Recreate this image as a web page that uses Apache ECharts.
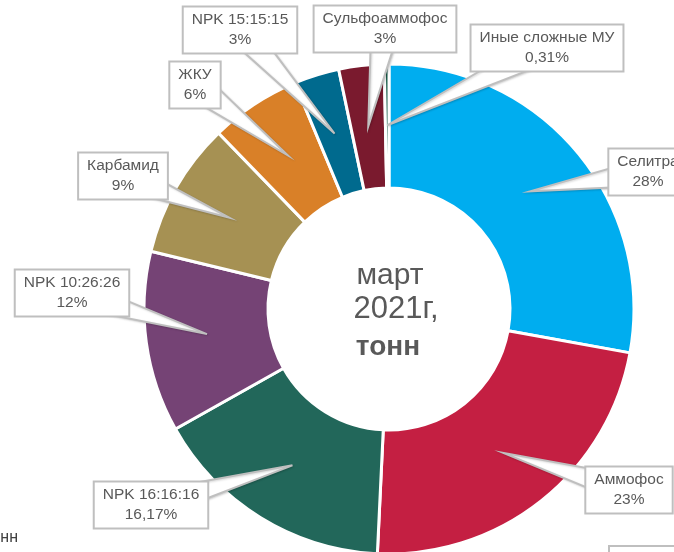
<!DOCTYPE html>
<html>
<head>
<meta charset="utf-8">
<script src="https://cdn.jsdelivr.net/npm/echarts@6/dist/echarts.min.js"></script>
<style>
  html, body { margin: 0; padding: 0; background: #fff; }
  #chart { width: 674px; height: 552px; }
</style>
</head>
<body>
<div id="chart"></div>
<script>
// ---- data ----
const categories = ['Селитра', 'Аммофос', 'NPK 16:16:16', 'NPK 10:26:26', 'Карбамид', 'ЖКУ', 'NPK 15:15:15', 'Сульфоаммофос', 'Иные сложные МУ'];
const values = [28, 23, 16.17, 12, 9, 6, 3, 3, 0.31];
const centerLines = ['март', '2021г,', 'тонн'];

// ---- styles / layout ----
const colors = ['#00ADEF', '#C41F42', '#22675A', '#754375', '#A69153', '#D98028', '#006A8E', '#7A1A2E', '#1B5E4B'];
const CX = 389, CY = 309, R_OUT = 245, R_IN = 121;
const labelCenters = [
  [648, 172], [629, 490], [151, 505], [72, 293], [123, 176],
  [195, 85], [240, 30], [385, 29], [547, 48]
];
const FONT = '"Liberation Sans", Arial, sans-serif';

const chart = echarts.init(document.getElementById('chart'), null, { renderer: 'canvas' });

const pieBase = {
  type: 'pie',
  center: [CX, CY],
  radius: [R_IN, R_OUT],
  startAngle: 90,
  clockwise: true,
  avoidLabelOverlap: false,
  silent: true
};

const option = {
  animation: false,
  backgroundColor: '#ffffff',
  series: [
    Object.assign({}, pieBase, {
      z: 1,
      itemStyle: { borderColor: '#ffffff', borderWidth: 3 },
      data: categories.map((c, i) => ({ name: c, value: values[i], itemStyle: { color: colors[i] } })),
      label: { show: false },
      labelLine: { show: false }
    }),
    Object.assign({}, pieBase, {
      z: 5,
      itemStyle: { color: 'rgba(0,0,0,0)', borderWidth: 0 },
      data: categories.map((c, i) => ({ name: c, value: values[i] })),
      label: {
        show: true,
        position: 'outside',
        formatter: p => p.name + '\n' + String(p.value).replace('.', ',') + '%',
        fontFamily: FONT,
        fontSize: 15.5,
        lineHeight: 20,
        color: '#595959',
        align: 'center',
        backgroundColor: '#ffffff',
        borderColor: '#BFBFBF',
        borderWidth: 2,
        padding: [3, 8, 2, 8]
      },
      labelLine: {
        show: true,
        length: 10,
        length2: 10,
        lineStyle: { color: '#BFBFBF', width: 2, shadowColor: 'rgba(0,0,0,0.15)', shadowBlur: 2, shadowOffsetX: 1, shadowOffsetY: 1 }
      },
      labelLayout: function (params) {
        const i = params.dataIndex;
        const lc = labelCenters[i];
        let p0 = params.labelLinePoints && params.labelLinePoints[0];
        if (!p0) { p0 = [CX, CY - R_OUT]; }
        const k = 0.75;
        const tip = [CX + (p0[0] - CX) * k, CY + (p0[1] - CY) * k];
        const dx = tip[0] - lc[0], dy = tip[1] - lc[1];
        const len = Math.sqrt(dx * dx + dy * dy) || 1;
        const w = 14;
        const px = -dy / len * w, py = dx / len * w;
        return {
          x: lc[0],
          y: lc[1],
          align: 'center',
          verticalAlign: 'middle',
          labelLinePoints: [[lc[0] + px, lc[1] + py], tip, [lc[0] - px, lc[1] - py]]
        };
      }
    })
  ],
  graphic: [
    { type: 'text', z: 10, style: { text: centerLines[0], x: 390, y: 291, textAlign: 'center', textVerticalAlign: 'bottom', font: '30px ' + FONT, fill: '#595959' } },
    { type: 'text', z: 10, style: { text: centerLines[1], x: 396, y: 325, textAlign: 'center', textVerticalAlign: 'bottom', font: '31px ' + FONT, fill: '#595959' } },
    { type: 'text', z: 10, style: { text: centerLines[2], x: 388, y: 361, textAlign: 'center', textVerticalAlign: 'bottom', font: 'bold 28px ' + FONT, fill: '#595959' } },
    { type: 'text', z: 10, style: { text: centerLines[2], x: 18, y: 546, textAlign: 'right', textVerticalAlign: 'bottom', font: '16px ' + FONT, fill: '#404040' } },
    { type: 'rect', z: 10, shape: { x: 609, y: 546, width: 90, height: 40 }, style: { fill: '#fff', stroke: '#BFBFBF', lineWidth: 2 } }
  ]
};
chart.setOption(option);

// give the callout pointers a white fill (styling only)
(function fillPointers() {
  const zr = chart.getZr();
  zr.storage.getDisplayList(true).forEach(function (el) {
    if (el.type === 'polyline') {
      el.setStyle('fill', '#ffffff');
    }
  });
  zr.refreshImmediately();
})();
</script>
</body>
</html>
